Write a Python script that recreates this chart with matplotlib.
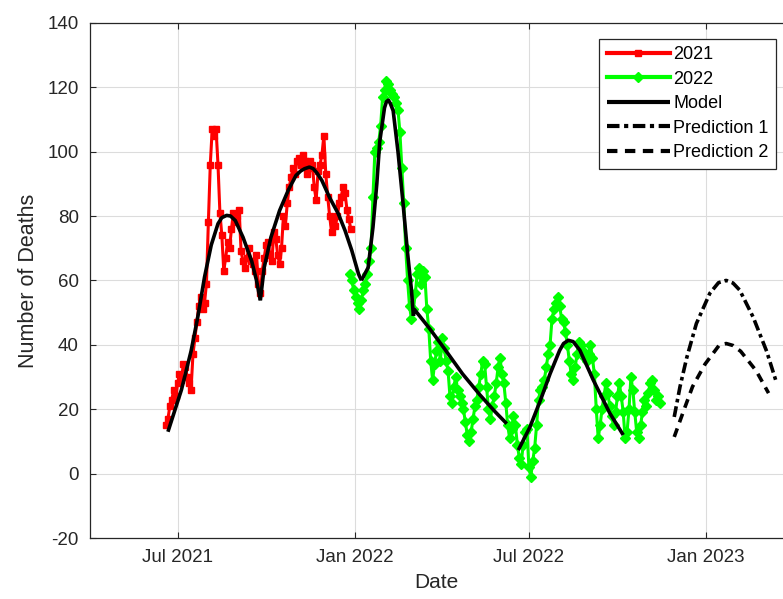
import numpy as np
import matplotlib
matplotlib.use("Agg")
import matplotlib.pyplot as plt
import matplotlib.dates as mdates

plt.rcParams["font.family"] = ["Liberation Sans", "DejaVu Sans"]
plt.rcParams["axes.unicode_minus"] = False

# Daily deaths, one reading every 2 days
deaths_2021_start = "2021-06-19"
deaths_2021 = [
    15, 17, 21, 23, 26, 24, 28, 31, 29, 34,
    33, 30, 28, 26, 37, 42, 47, 52, 55, 51,
    53, 59, 78, 96, 107, 105, 107, 96, 81, 74,
    63, 67, 72, 70, 76, 81, 78, 80, 82, 69,
    66, 64, 67, 70, 66, 65, 63, 68, 59, 56,
    63, 67, 71, 72, 68, 66, 75, 73, 68, 65,
    70, 80, 77, 84, 89, 92, 95, 93, 97, 98,
    96, 99, 97, 93, 95, 97, 96, 89, 85, 94,
    96, 99, 105, 93, 86, 80, 75, 78, 77, 80,
    84, 86, 89, 87, 82, 79, 76,
]

deaths_2022_start = "2021-12-27"
deaths_2022 = [
    62, 60, 57, 55, 53, 51, 54, 57, 59, 62,
    66, 70, 86, 100, 101, 103, 108, 117, 119, 122,
    121, 119, 118, 117, 115, 113, 106, 95, 84, 70,
    60, 52, 48, 51, 56, 62, 64, 59, 63, 61,
    51, 45, 35, 29, 34, 38, 41, 35, 42, 39,
    35, 32, 24, 22, 27, 30, 26, 24, 22, 20,
    16, 12, 10, 13, 17, 21, 23, 27, 31, 35,
    34, 27, 20, 17, 21, 24, 28, 33, 36, 31,
    28, 22, 15, 11, 14, 18, 15, 9, 5, 3,
    9, 13, 14, 2, -1, 4, 8, 15, 23, 26,
    27, 29, 33, 37, 40, 48, 51, 53, 55, 52,
    48, 47, 44, 40, 35, 31, 29, 33, 37, 41,
    40, 38, 36, 35, 37, 40, 36, 31, 20, 11,
    15, 20, 24, 28, 25, 21, 18, 15, 19, 24,
    28, 24, 19, 11, 13, 20, 30, 26, 19, 13,
    11, 15, 19, 23, 21, 25, 28, 29, 26, 23,
    24, 22,
]
step_days = 2

# Fitted model, one segment per wave
model_a_dates = ["2021-06-21", "2021-07-05", "2021-07-15", "2021-07-22", "2021-07-29",
                 "2021-08-05", "2021-08-12", "2021-08-16", "2021-08-21", "2021-08-25",
                 "2021-08-30", "2021-09-07", "2021-09-16", "2021-09-21", "2021-09-25"]
model_a_vals = [13, 26, 38, 48.6, 61, 71, 77.6, 79.5, 80.2, 80, 78.6, 73.4, 66, 60, 53.8]

model_b_dates = ["2021-09-25", "2021-09-29", "2021-10-06", "2021-10-15", "2021-10-24",
                 "2021-11-01", "2021-11-06", "2021-11-10", "2021-11-15", "2021-11-19",
                 "2021-11-23", "2021-11-28", "2021-12-06", "2021-12-15", "2021-12-22",
                 "2021-12-29", "2022-01-05", "2022-01-08"]
model_b_vals = [53.8, 64, 73.4, 81.7, 88, 92.6, 94, 94.7, 95.2, 94.7, 93.3, 91, 85.7,
                80.7, 75.5, 69.3, 62, 60]

model_c_dates = ["2022-01-08", "2022-01-15", "2022-01-20", "2022-01-24", "2022-01-27",
                 "2022-02-01", "2022-02-03", "2022-02-05", "2022-02-07", "2022-02-10",
                 "2022-02-15", "2022-02-20", "2022-02-25", "2022-03-01", "2022-03-03"]
model_c_vals = [60, 64, 76.5, 90, 103, 113.6, 115.5, 116, 115, 112.7, 100, 84.8, 68.4, 57, 49]

model_d_dates = ["2022-03-03", "2022-03-04", "2022-03-20", "2022-04-05", "2022-04-23",
                 "2022-05-11", "2022-05-26", "2022-06-08"]
model_d_vals = [49, 51, 45, 38.5, 31, 24.5, 19.5, 15.5]

model_e_dates = ["2022-06-20", "2022-07-02", "2022-07-13", "2022-07-23", "2022-08-02",
                 "2022-08-06", "2022-08-11", "2022-08-16", "2022-08-23", "2022-09-06",
                 "2022-09-23", "2022-10-07"]
model_e_vals = [7.3, 14.4, 22.8, 31, 38.3, 40.4, 41.4, 41, 38.3, 29, 18.8, 12]

# Forecasts
pred1_dates = ["2022-11-29", "2022-12-05", "2022-12-12", "2022-12-22", "2023-01-05",
               "2023-01-14", "2023-01-22", "2023-01-29", "2023-02-05", "2023-02-19",
               "2023-03-05", "2023-03-15"]
pred1_vals = [17.6, 27, 36, 46.6, 56, 59.3, 60, 59.2, 57, 48.6, 38, 28.5]

pred2_dates = ["2022-11-29", "2022-12-09", "2022-12-18", "2022-12-31", "2023-01-15",
               "2023-01-22", "2023-01-29", "2023-02-06", "2023-02-22", "2023-03-07"]
pred2_vals = [11.4, 19.7, 27, 34, 40, 40.4, 39.8, 38, 32, 25]

x_ticks = ["2021-07-01", "2022-01-01", "2022-07-01", "2023-01-01"]
y_ticks = list(range(-20, 141, 20))


def series_dates(start, n):
    return np.datetime64(start) + np.arange(n) * np.timedelta64(step_days, "D")


def to_dates(lst):
    return np.array(lst, dtype="datetime64[D]")


fig = plt.figure(figsize=(7.83, 5.99), dpi=100)
ax = fig.add_axes([0.1149, 0.1018, 0.8851, 0.8601])

ax.plot(series_dates(deaths_2021_start, len(deaths_2021)), deaths_2021,
        color="#ff0000", lw=2.2, marker="s", ms=4.4, mec="#ff0000", mfc="#ff0000",
        label="2021", zorder=3)
ax.plot(series_dates(deaths_2022_start, len(deaths_2022)), deaths_2022,
        color="#00ff00", lw=2.2, marker="D", ms=5.6, mec="#00ff00", mfc="#00ff00",
        label="2022", zorder=3)

model_kw = dict(color="black", lw=2.6, zorder=4, solid_capstyle="butt")
segments = [(model_a_dates, model_a_vals), (model_b_dates, model_b_vals),
            (model_c_dates, model_c_vals), (model_d_dates, model_d_vals),
            (model_e_dates, model_e_vals)]
for i, (d, v) in enumerate(segments):
    ax.plot(to_dates(d), v, label="Model" if i == 0 else None, **model_kw)

ax.plot(to_dates(pred1_dates), pred1_vals, color="black", lw=2.6,
        linestyle=(0, (3.0, 1.1, 1.0, 1.1)), label="Prediction 1", zorder=4)
ax.plot(to_dates(pred2_dates), pred2_vals, color="black", lw=2.6,
        linestyle=(0, (2.5, 1.8)), label="Prediction 2", zorder=4)

ax.set_xlim(np.datetime64("2021-04-01"), np.datetime64("2023-03-22"))
ax.set_ylim(-20, 140)
ax.set_xticks(to_dates(x_ticks))
ax.xaxis.set_major_formatter(mdates.DateFormatter("%b %Y"))
ax.set_yticks(y_ticks)

axis_color = "#262626"
ax.grid(True, color="#dcdcdc", lw=0.8)
ax.set_axisbelow(True)
for side in ["left", "top", "bottom"]:
    ax.spines[side].set_color(axis_color)
    ax.spines[side].set_linewidth(0.9)
ax.spines["right"].set_visible(False)
ax.tick_params(direction="in", length=4, width=0.8, color=axis_color,
               labelcolor=axis_color, labelsize=13.5, top=True, right=False, pad=8)

ax.set_xlabel("Date", fontsize=15, color=axis_color, labelpad=5)
ax.set_ylabel("Number of Deaths", fontsize=15.5, color=axis_color, labelpad=6)

leg = ax.legend(loc="upper right", bbox_to_anchor=(0.99, 0.969), borderaxespad=0,
                fontsize=13, numpoints=1, handlelength=3.5, handletextpad=0.2,
                labelspacing=0.42, borderpad=0.4, fancybox=False, framealpha=1,
                edgecolor=axis_color)
leg.get_frame().set_linewidth(0.9)
for t in leg.get_texts():
    t.set_color("black")
for h in leg.get_lines():
    h.set_linewidth(3.0)

fig.savefig("out.png", dpi=100)
